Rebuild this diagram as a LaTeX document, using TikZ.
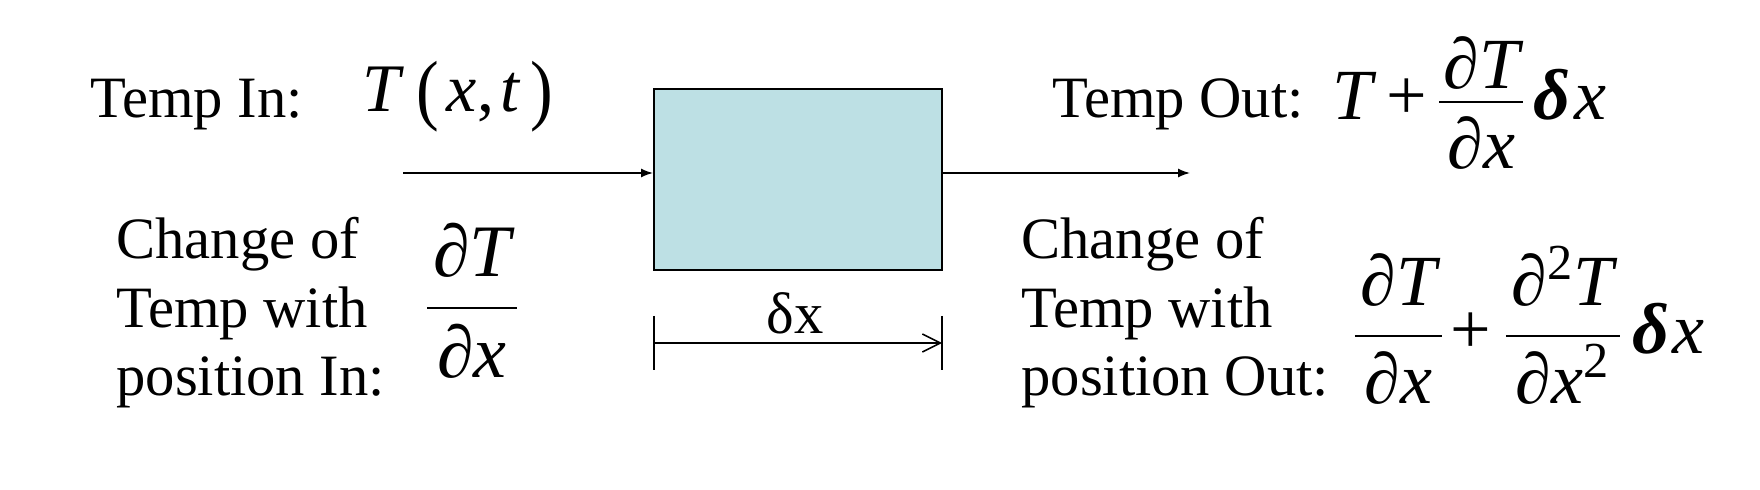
\RequirePackage{fix-cm}
\documentclass[tikz,border=0pt]{standalone}
\usepackage{fontspec}
\usepackage{amsmath}
\usepackage{graphicx}
\setmainfont{Liberation Serif}
\usetikzlibrary{arrows.meta}
\definecolor{cellblue}{RGB}{189,224,228}
\newcommand{\vi}[1]{\mbox{\itshape #1}}
\newcommand{\dlt}{\mbox{\bfseries\itshape δ}}
\newcommand{\fr}[2]{\genfrac{}{}{}{0}{\vi{\kern3pt#1\kern3pt}}{\vi{\kern3pt#2\kern3pt}}}
\newcommand{\tfr}[2]{\genfrac{}{}{}{1}{\vi{\kern2pt#1\kern2pt}\vrule depth5.5pt width0pt}{\vi{\kern2pt#2\kern2pt}\vrule height32pt width0pt}}

\begin{document}
\begin{tikzpicture}[x=0.5pt, y=-0.5pt,
    lbl/.style={font=\fontsize{29.3}{34.25}\selectfont, inner sep=0pt, align=left},
    eqn/.style={font=\fontsize{34}{40}\selectfont, inner sep=0pt},
    flow/.style={line width=0.75pt, -{Latex[length=6pt,width=4.5pt]}}]
  \useasboundingbox (0,0) rectangle (1760,490);
  \node[draw, line width=1pt, fill=cellblue, minimum width=144pt, minimum height=90.5pt, inner sep=0pt] (cell) at (798,179.5) {};
  \coordinate (in) at (403,173);
  \coordinate (out) at (1190,173);
  \draw[flow] (in) -- (in -| cell.west);
  \draw[flow] (out -| cell.east) -- (out);
  \coordinate (d1) at (654,343);
  \coordinate (d2) at (942,343);
  \foreach \c in {d1,d2}
    \draw[line width=0.75pt] ([yshift=13.5pt]\c) -- ([yshift=-13.5pt]\c);
  \draw[line width=0.75pt, -{Straight Barb[length=9pt,width=9pt]}] (d1) -- (d2);
  \node[lbl, anchor=base] (dx) at (795,334) {δx};
  \node[lbl, anchor=base west] (tin) at (90,118) {Temp In:};
  \node[eqn, anchor=base west] (fin) at (362,112) {\vi{T}\kern8pt\raisebox{-1.8pt}{\scalebox{1}[1.15]{(}}\kern4pt\vi{x},\kern3pt\vi{t}\kern6pt\raisebox{-1.8pt}{\scalebox{1}[1.15]{)}}};
  \node[lbl, anchor=base west] (gin) at (116,396) {Change of\\Temp with\\position In:};
  \node[eqn, font=\fontsize{37}{44}\selectfont] (din) at (472,301) {$\fr{∂T}{∂x}$};
  \node[lbl, anchor=base west] (tout) at (1052,118) {Temp Out:};
  \node[eqn, font=\fontsize{36}{42}\selectfont, anchor=base west] (fout) at (1332,120) {\vi{T}\kern7pt+\kern5pt$\tfr{∂T}{∂x}$\kern4pt\dlt\kern2pt\vi{x}};
  \node[lbl, anchor=base west] (gout) at (1021,396) {Change of\\Temp with\\position Out:};
  \node[eqn, font=\fontsize{36}{42}\selectfont, anchor=west] (dout) at (1352,325) {$\fr{∂T}{∂x}$\kern3pt+\kern6pt$\fr{∂\textsuperscript{\upshape 2}T}{∂x\textsuperscript{\upshape 2}}$\kern5pt\dlt\kern2pt\vi{x}};
\end{tikzpicture}
\end{document}
